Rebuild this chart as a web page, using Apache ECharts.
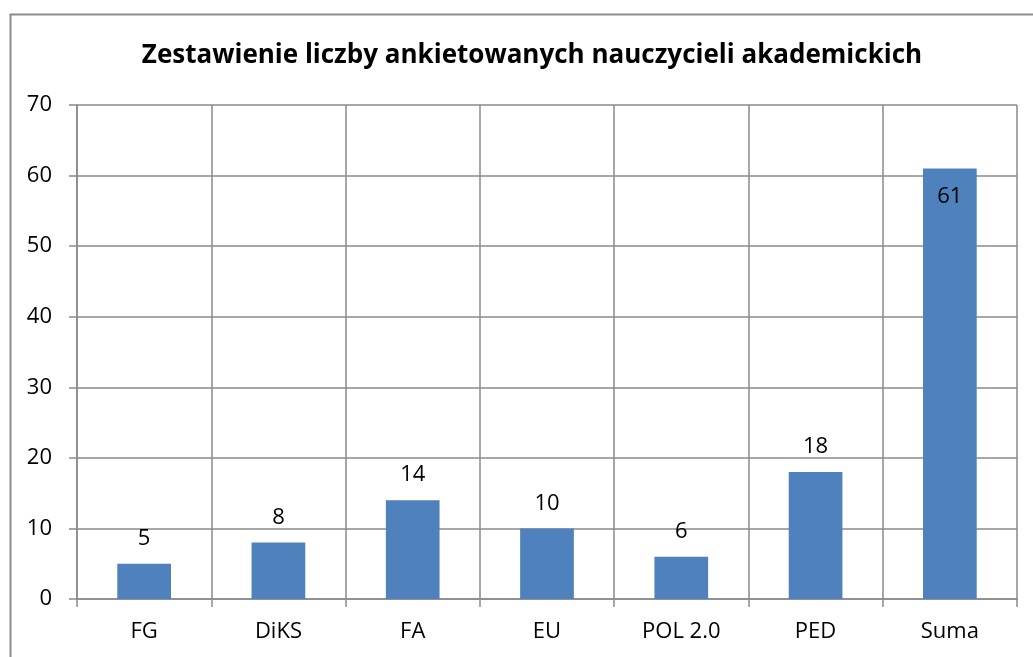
<!DOCTYPE html>
<html>
<head>
<meta charset="utf-8">
<script src="https://cdn.jsdelivr.net/npm/echarts@6/dist/echarts.min.js"></script>
<style>
	*{
		margin:0px;
		padding:0px;
	}
	#main{
		width: 1033px;
		height: 657px;
		background: #fff;
	}
</style>
</head>
<body>
<div id="main"></div>
<script type="text/javascript">
var categories = ['FG', 'DiKS', 'FA', 'EU', 'POL 2.0', 'PED', 'Suma'];
var values = [5, 8, 14, 10, 6, 18, 61];
var insideLabel = ['Suma'];

var gridColor = '#8a8a8a';
var font = 'Open Sans';

var barData = values.map(function (v, i) {
    var item = { value: v };
    if (insideLabel.indexOf(categories[i]) >= 0) {
        item.label = { position: 'insideTop', distance: 17 };
    }
    return item;
});

var myChart = echarts.init(document.getElementById('main'));
myChart.setOption({
    animation: false,
    title: {
        text: 'Zestawienie liczby ankietowanych nauczycieli akademickich',
        left: 527,
        textAlign: 'center',
        top: 38,
        textStyle: {
            fontFamily: font,
            fontWeight: 'bold',
            fontSize: 26,
            color: '#000'
        }
    },
    graphic: [{
        type: 'rect',
        left: 8,
        top: 12,
        shape: { width: 1100, height: 700 },
        style: { fill: 'none', stroke: '#8c8c8c', lineWidth: 2 },
        silent: true
    }],
    grid: {
        left: 77,
        right: 16,
        top: 105,
        bottom: 58
    },
    xAxis: {
        type: 'category',
        data: categories,
        boundaryGap: true,
        axisLine: { lineStyle: { color: gridColor, width: 1.5 } },
        axisTick: { show: true, length: 8, lineStyle: { color: gridColor, width: 1.5 } },
        splitLine: { show: true, lineStyle: { color: gridColor, width: 1.5 } },
        axisLabel: {
            fontFamily: font,
            fontSize: 22,
            color: '#000',
            margin: 22
        }
    },
    yAxis: {
        type: 'value',
        min: 0,
        max: 70,
        interval: 10,
        axisLine: { show: true, lineStyle: { color: gridColor, width: 1.5 } },
        axisTick: { show: true, length: 8, lineStyle: { color: gridColor, width: 1.5 } },
        splitLine: { show: true, lineStyle: { color: gridColor, width: 1.5 } },
        axisLabel: {
            fontFamily: font,
            fontSize: 22,
            color: '#000',
            margin: 25
        }
    },
    series: [{
        type: 'bar',
        data: barData,
        barWidth: '40%',
        itemStyle: { color: '#4f81bd' },
        label: {
            show: true,
            position: 'top',
            distance: 14,
            fontFamily: font,
            fontSize: 22,
            color: '#000'
        }
    }]
});
</script>
</body>
</html>
